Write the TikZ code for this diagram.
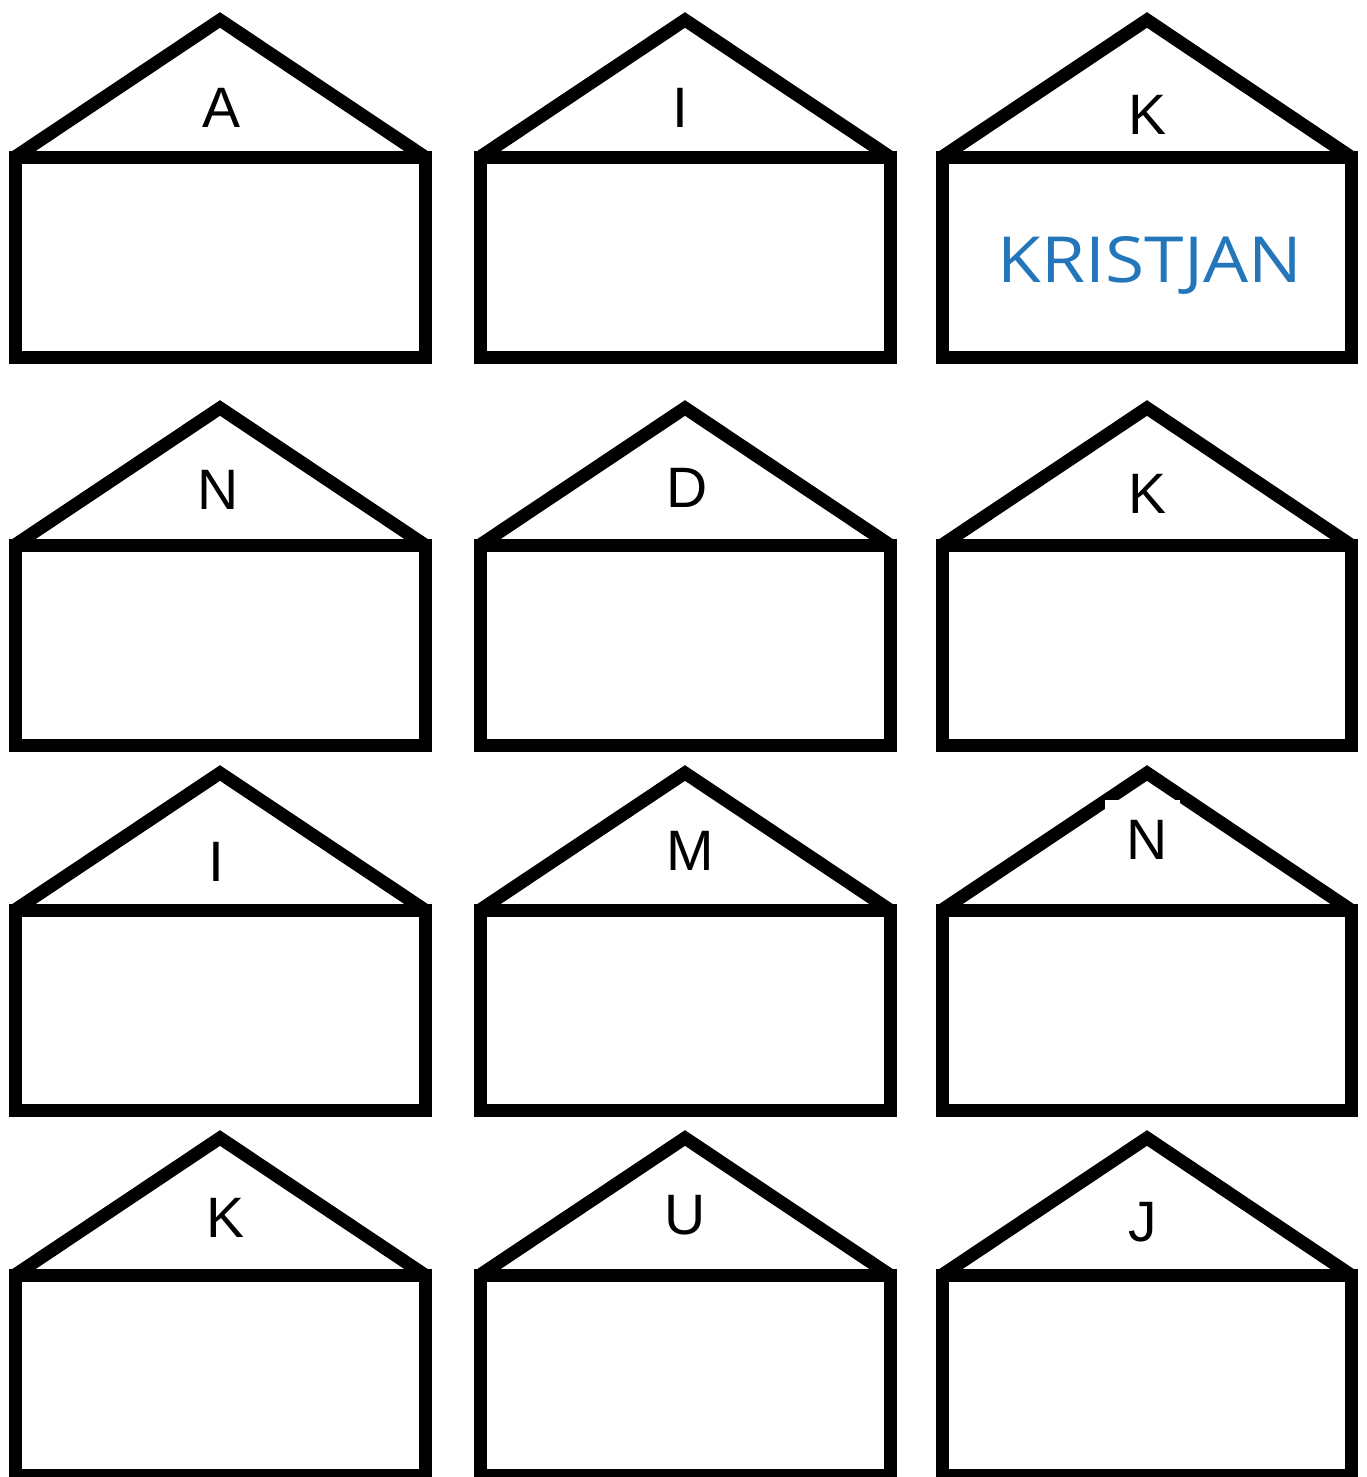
\documentclass[tikz,border=0pt]{standalone}
\usepackage{fontspec}
\setmainfont{Liberation Sans}
\newfontfamily\kfont{Open Sans}
\definecolor{kblue}{RGB}{35,118,185}
\begin{document}
\begin{tikzpicture}[x=1pt,y=-1pt,
  wall/.style={line width=13pt, line join=miter, black},
  lett/.style={font=\fontsize{57}{60}\selectfont, inner sep=0pt},
  patch/.style={fill=white, draw=none}]
\useasboundingbox (0,0) rectangle (1367,1477);
\fill[white] (0,0) rectangle (1367,1477);
% houses: left x / apex x / right x ; apex y / base y / bottom y
\foreach \lx/\ax/\rx [count=\c] in {15/220/425, 480/685/890, 942/1147/1351}{
  \foreach \ay/\by/\bot [count=\r] in {20/157/357, 408/545/745, 773/910/1110, 1138/1275/1475}{
    \draw[wall] (\lx,\by) rectangle (\rx,\bot);
    \draw[wall] (\lx,\by) -- (\ax,\ay) -- (\rx,\by);
  }
}
% white patch behind the N of row 3
\node[patch, minimum width=75pt, minimum height=30pt, anchor=north west] (pN) at (1105,800) {};
% letters
\node[lett] (l11) at (222,108) {A};
\node[lett] (l12) at (680,108) {I};
\node[lett] (l13) at (1147,115) {K};
\node[lett] (l21) at (218,490) {N};
\node[lett] (l22) at (687,488) {D};
\node[lett] (l23) at (1147,494) {K};
\node[lett] (l31) at (216,862) {I};
\node[lett] (l32) at (690,851) {M};
\node[lett] (l33) at (1147,840) {N};
\node[lett] (l41) at (226,1218) {K};
\node[lett] (l42) at (685,1215) {U};
\node[lett] (l43) at (1143,1222) {J};
\node[inner sep=0pt, text=kblue] (name) at (1150,265) {\resizebox{304pt}{46pt}{\kfont KRISTJAN}};
\end{tikzpicture}
\end{document}
